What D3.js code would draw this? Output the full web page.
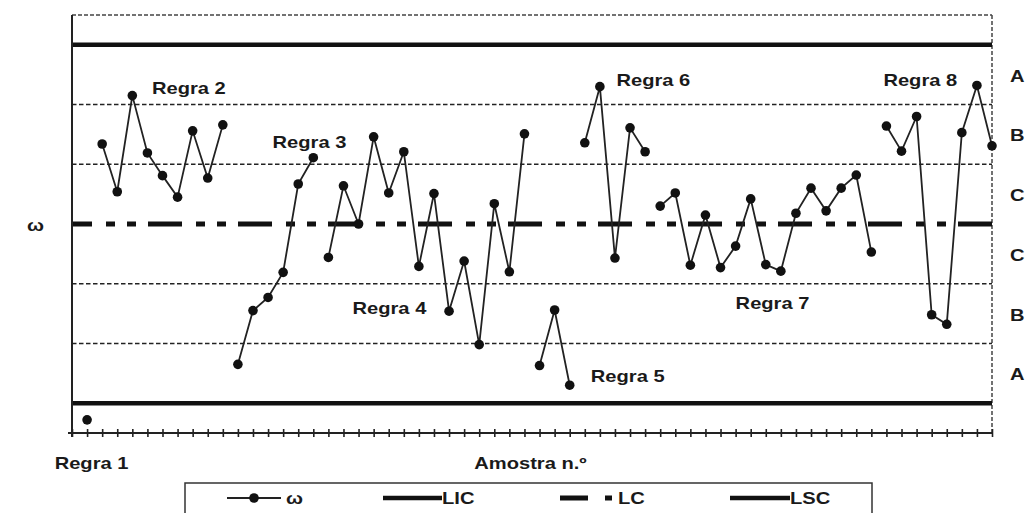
<!DOCTYPE html>
<html>
<head>
<meta charset="utf-8">
<script src="https://cdn.jsdelivr.net/npm/d3@7"></script>
<style>
	body { margin: 0; background: #fff; }
	text { font-family: 'Liberation Sans', Arial, sans-serif; font-weight: bold; fill: #1a1a1a; }
</style>
</head>
<body>
<div id="chart"></div>
<script>

// omega per sample (in sigma units, LC = 0)
const omega = [
	-3.28, 1.34, 0.54, 2.15, 1.19, 0.81, 0.45, 1.56, 0.77, 1.66,
	-2.35, -1.45, -1.23, -0.81, 0.67, 1.11, -0.56, 0.64, 0.0, 1.46,
	0.52, 1.21, -0.71, 0.51, -1.46, -0.62, -2.02, 0.34, -0.8, 1.51,
	-2.37, -1.44, -2.7, 1.36, 2.3, -0.57, 1.61, 1.21, 0.3, 0.52,
	-0.69, 0.15, -0.73, -0.37, 0.42, -0.68, -0.79, 0.18, 0.6, 0.22,
	0.6, 0.82, -0.47, 1.64, 1.22, 1.8, -1.52, -1.68, 1.53, 2.32,
	1.31
];

// first and last sample of each joined stretch
const runs = [[1, 1], [2, 10], [11, 16], [17, 30], [31, 33], [34, 38], [39, 53], [54, 61]];

const rules = ['Regra 1', 'Regra 2', 'Regra 3', 'Regra 4', 'Regra 5', 'Regra 6', 'Regra 7', 'Regra 8'];

const limits = { LSC: 3, LC: 0, LIC: -3 };
const zoneLines = [2, 1, -1, -2];
const zoneNames = ['A', 'B', 'C', 'C', 'B', 'A'];
const zoneMids = [2.5, 1.5, 0.5, -0.5, -1.5, -2.5];

const legendItems = ['ω', 'LIC', 'LC', 'LSC'];

const width = 1025;
const height = 513;
const stretch = 1.22;

let svg = d3.select('#chart').append('svg')
.attr('width', width)
.attr('height', height);

let x = d3.scaleLinear().domain([0, omega.length]).range([72, 992]);
let y = d3.scaleLinear().domain([-3.5, 3.5]).range([433, 15]);

// wide bold text, the scan is stretched sideways
const label = (g, txt, px, py, anchor) => {
	g.append('text')
	.attr('transform', `translate(${px},${py}) scale(${stretch},1)`)
	.attr('text-anchor', anchor || 'start')
	.style('font-size', '16.5px')
	.text(txt);
}

let frame = svg.append('g');

frame.append('line')
.attr('x1', x(0)).attr('x2', x(omega.length))
.attr('y1', y(3.5)).attr('y2', y(3.5))
.attr('stroke', '#444').attr('stroke-width', 1.5)
.attr('stroke-dasharray', '4,2');

frame.append('line')
.attr('x1', x(omega.length)).attr('x2', x(omega.length))
.attr('y1', y(3.5)).attr('y2', y(-3.5))
.attr('stroke', '#444').attr('stroke-width', 1.5)
.attr('stroke-dasharray', '4,2');

frame.selectAll('.zone')
.data(zoneLines)
.enter()
.append('line')
.attr('class', 'zone')
.attr('x1', x(0)).attr('x2', x(omega.length))
.attr('y1', d => y(d)).attr('y2', d => y(d))
.attr('stroke', '#222').attr('stroke-width', 1.6)
.attr('stroke-dasharray', '4.5,2.5');

frame.selectAll('.limit')
.data([limits.LSC, limits.LIC])
.enter()
.append('line')
.attr('class', 'limit')
.attr('x1', x(0)).attr('x2', x(omega.length))
.attr('y1', d => y(d)).attr('y2', d => y(d))
.attr('stroke', '#111').attr('stroke-width', 4.5);

frame.append('line')
.attr('x1', x(0)).attr('x2', x(omega.length))
.attr('y1', y(limits.LC)).attr('y2', y(limits.LC))
.attr('stroke', '#111').attr('stroke-width', 5)
.attr('stroke-dasharray', '34,14,9,12,9,12')
.attr('stroke-dashoffset', 14);

// axes
let xAxis = svg.append('g')
.attr('transform', `translate(0,${y(-3.5)})`)
.call(d3.axisBottom(x).tickValues(d3.range(0, omega.length + 1)).tickSize(4).tickFormat(''));

xAxis.select('.domain').attr('d', `M${x(0) - 4},0H${x(omega.length)}`).attr('stroke', '#222').attr('stroke-width', 1.8);
xAxis.selectAll('.tick line').attr('y1', -4).attr('y2', 4).attr('stroke', '#222').attr('stroke-width', 1.6);

let yAxis = svg.append('g')
.attr('transform', `translate(${x(0)},0)`)
.call(d3.axisLeft(y).tickValues([]).tickSizeOuter(0));

yAxis.select('.domain').attr('d', `M0,${y(3.5)}V${y(-3.5) + 4}`).attr('stroke', '#222').attr('stroke-width', 2);

// data
let line = d3.line()
.x(d => x(d))
.y(d => y(omega[d - 1]));

let series = svg.append('g');

series.selectAll('path')
.data(runs.map(r => d3.range(r[0], r[1] + 1)))
.enter()
.append('path')
.attr('d', line)
.attr('fill', 'none')
.attr('stroke', '#222')
.attr('stroke-width', 1.8);

series.selectAll('circle')
.data(omega)
.enter()
.append('circle')
.attr('cx', (d, i) => x(i + 1))
.attr('cy', d => y(d))
.attr('r', 4.8)
.attr('fill', '#111');

// annotations, anchored in sample / sigma units
const ruleAt = [[-1.15, -4.1], [5.3, 2.18], [13.3, 1.27], [18.6, -1.5], [34.4, -2.65], [36.1, 2.31], [44, -1.42], [53.8, 2.31]];

let notes = svg.append('g');

rules.forEach((r, i) => label(notes, r, x(ruleAt[i][0]), y(ruleAt[i][1])));

label(notes, 'Amostra n.º', x(30.4), 469, 'middle');
label(notes, 'ω', 27, 231);

zoneNames.forEach((z, i) => label(notes, z, 1010, y(zoneMids[i]) + 7));

// legend
let legend = svg.append('g');

legend.append('rect')
.attr('x', 185).attr('y', 483)
.attr('width', 687).attr('height', 60)
.attr('fill', 'none')
.attr('stroke', '#333').attr('stroke-width', 1.5);

let ly = 498;

legend.append('line')
.attr('x1', 227).attr('x2', 281).attr('y1', ly).attr('y2', ly)
.attr('stroke', '#222').attr('stroke-width', 1.8);
legend.append('circle')
.attr('cx', 254).attr('cy', ly).attr('r', 4.8).attr('fill', '#111');

legend.append('line')
.attr('x1', 383).attr('x2', 442).attr('y1', ly).attr('y2', ly)
.attr('stroke', '#111').attr('stroke-width', 4.5);

legend.append('line')
.attr('x1', 560).attr('x2', 612).attr('y1', ly).attr('y2', ly)
.attr('stroke', '#111').attr('stroke-width', 5)
.attr('stroke-dasharray', '28,17,7,20');

legend.append('line')
.attr('x1', 730).attr('x2', 790).attr('y1', ly).attr('y2', ly)
.attr('stroke', '#111').attr('stroke-width', 4.5);

const legendTextX = [286, 442, 618, 790];

legendItems.forEach((t, i) => label(legend, t, legendTextX[i], ly + 6));

</script>
</body>
</html>
